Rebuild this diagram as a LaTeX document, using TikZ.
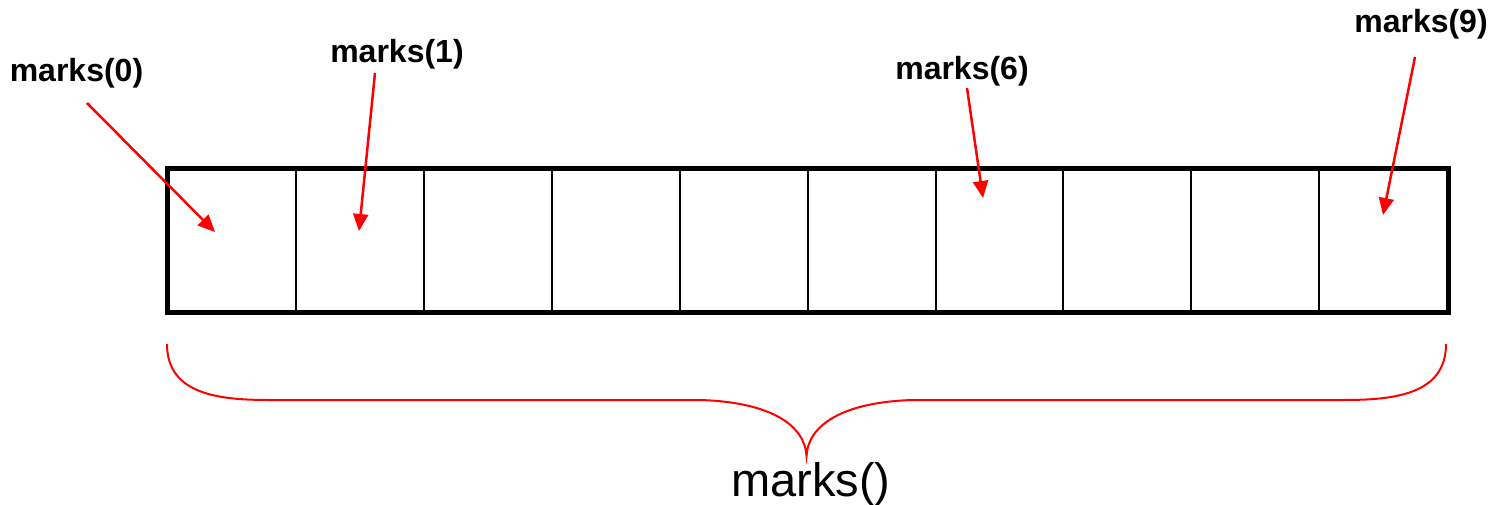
\documentclass[tikz,border=0pt]{standalone}
\usepackage{fontspec}
\setmainfont{Liberation Sans}
\usetikzlibrary{arrows.meta}
\begin{document}
\begin{tikzpicture}[x=1pt,y=-1pt,
  lbl/.style={font=\fontsize{32}{36}\selectfont\bfseries, anchor=base, inner sep=0pt},
  biglbl/.style={font=\fontsize{47}{52}\selectfont, anchor=base, inner sep=0pt},
  ptr/.style={red, line width=2.5pt, -{Triangle[length=17pt,width=15pt]}},
  cell/.style={draw, line width=2pt, minimum width=127.85pt, minimum height=141pt, inner sep=0pt, anchor=north west},
  brace/.style={red, line width=2pt}]
\useasboundingbox (0,0) rectangle (1493,505);
% cells
\foreach \i in {0,...,9} {
  \node[cell] (c\i) at ({167.5+\i*127.85},169) {};
}
\draw[line width=5pt] (c0.north west) rectangle (c9.south east);
% labels
\node[lbl] (l0) at (76.5,82) {marks(0)};
\node[lbl] (l1) at (397,63) {marks(1)};
\node[lbl] (l6) at (962,80) {marks(6)};
\node[lbl] (l9) at (1421,33) {marks(9)};
% arrow ends
\coordinate (s0) at (87,103);   \coordinate (t0) at (215,232);
\coordinate (s1) at (375,73);   \coordinate (t1) at (359,231);
\coordinate (s6) at (967,88);   \coordinate (t6) at (983,198);
\coordinate (s9) at (1415,57);  \coordinate (t9) at (1383,215);
\draw[ptr] (s0) -- (t0);
\draw[ptr] (s1) -- (t1);
\draw[ptr] (s6) -- (t6);
\draw[ptr] (s9) -- (t9);
% brace
\coordinate (bl) at (167,344);
\coordinate (br) at (1446,344);
\coordinate (bt) at (806.5,456);
\draw[brace] (bl) .. controls (167,395) and (220,400) .. (270,400) -- (700,400)
  .. controls (770,402) and (805,425) .. (bt)
  .. controls (808,425) and (843,402) .. (913,400) -- (1343,400)
  .. controls (1393,400) and (1446,395) .. (br);
\node[biglbl] (all) at (811,496) {marks()};
\end{tikzpicture}
\end{document}
